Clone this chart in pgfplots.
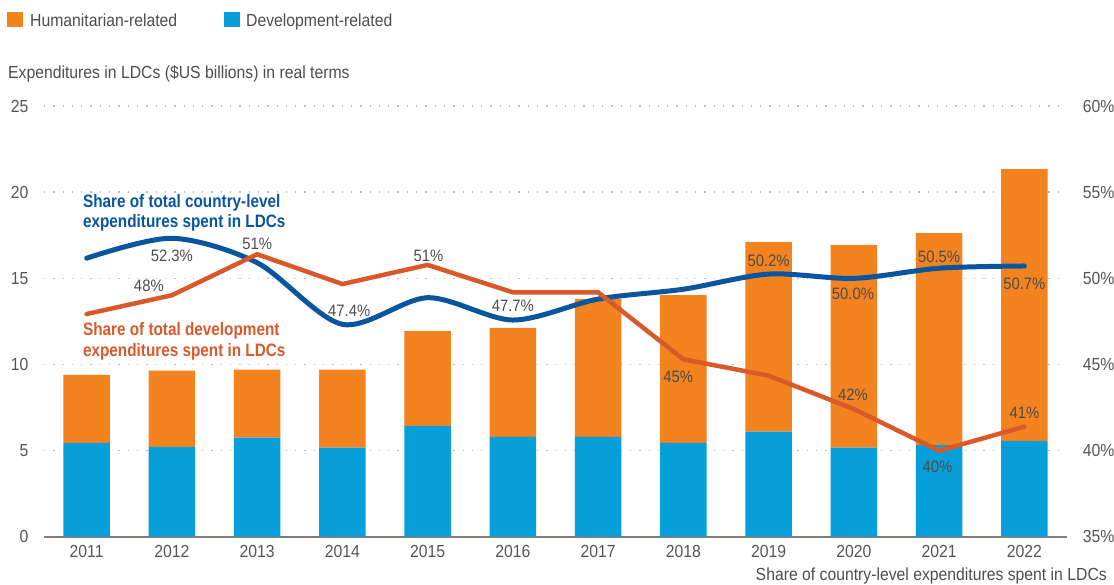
\documentclass[border=0pt]{standalone}
\usepackage{fontspec}
\setmainfont{Liberation Sans}[FakeStretch=0.9]
\newfontfamily\condb{Liberation Sans Bold}[FakeStretch=0.85]
\usepackage{pgfplots}
\pgfplotsset{compat=1.18}
\definecolor{hum}{HTML}{F3831F}
\definecolor{dev}{HTML}{079FDA}
\definecolor{bline}{HTML}{0A559F}
\definecolor{oline}{HTML}{D9592B}
\definecolor{lab}{HTML}{4D4D4D}
\definecolor{tickc}{HTML}{555555}
\definecolor{gridc}{HTML}{BDBDBD}
\definecolor{basec}{HTML}{857E78}
\pgfplotsset{/pgf/number format/assume math mode=true}
\begin{document}
\begin{tikzpicture}
\path[use as bounding box] (0,0) rectangle (1114pt,-585pt);
% legend
\fill[hum] (7.3pt,-11.7pt) rectangle (23.3pt,-27.3pt);
\node[anchor=base west, inner sep=0, text=lab, font=\fontsize{17.5}{20}\selectfont] at (30pt,-26.2pt) {Humanitarian-related};
\fill[dev] (224pt,-11.7pt) rectangle (240pt,-27.3pt);
\node[anchor=base west, inner sep=0, text=lab, font=\fontsize{17.5}{20}\selectfont] at (246pt,-26.2pt) {Development-related};
% y title
\node[anchor=base west, inner sep=0, text=lab, font=\fontsize{17.5}{20}\selectfont] at (8pt,-78.5pt) {Expenditures in LDCs (\$US billions) in real terms};
% bottom right title
\node[anchor=base east, inner sep=0, text=lab, font=\fontsize{17.5}{20}\selectfont] at (1107pt,-580.8pt) {Share of country-level expenditures spent in LDCs};

\begin{axis}[
  at={(44pt,-536.5pt)}, anchor=south west,
  scale only axis, width=1023pt, height=430.5pt,
  xmin=2010.5, xmax=2022.5, ymin=0, ymax=25,
  axis line style={draw=none},
  major tick length=0pt, tick style={draw=none},
  xtick={2011,...,2022},
  xticklabel={\pgfmathprintnumber[1000 sep={}]{\tick}},
  xticklabel style={anchor=north, inner sep=0pt, yshift=-8.5pt, text=tickc, font=\fontsize{17.5}{20}\selectfont},
  ytick={0,5,...,25},
  yticklabel style={anchor=east, inner sep=0pt, xshift=-15.3pt, text=tickc, font=\fontsize{17.5}{20}\selectfont},
  ymajorgrids, grid style={gridc, line width=1.3pt, dash pattern=on 1.3pt off 8pt},
  ybar stacked, bar width=46.4pt,
  clip=false,
]
\addplot[fill=dev, draw=none] coordinates {
(2011,5.43) (2012,5.20) (2013,5.74) (2014,5.16) (2015,6.43) (2016,5.78)
(2017,5.78) (2018,5.43) (2019,6.09) (2020,5.16) (2021,5.31) (2022,5.55)};
\addplot[fill=hum, draw=none] coordinates {
(2011,3.95) (2012,4.43) (2013,3.95) (2014,4.53) (2015,5.50) (2016,6.33)
(2017,8.02) (2018,8.59) (2019,11.01) (2020,11.77) (2021,12.31) (2022,15.79)};
\draw[basec, line width=2pt] (rel axis cs:0,0) -- (rel axis cs:1,0);
\end{axis}

\begin{axis}[
  at={(44pt,-536.5pt)}, anchor=south west,
  scale only axis, width=1023pt, height=430.5pt,
  xmin=2010.5, xmax=2022.5, ymin=35, ymax=60,
  axis line style={draw=none},
  major tick length=0pt, tick style={draw=none},
  xtick=\empty,
  ytick={35,40,...,60},
  yticklabel pos=right,
  yticklabel={\pgfmathprintnumber{\tick}\%},
  yticklabel style={anchor=west, inner sep=0pt, xshift=15.7pt, text=tickc, font=\fontsize{17.5}{20}\selectfont},
  clip=false,
]
\addplot[bline, line width=5pt, smooth, tension=0.5, line cap=round] coordinates {
(2011,51.16) (2012,52.32) (2013,50.9) (2014,47.32) (2015,48.87) (2016,47.57)
(2017,48.79) (2018,49.36) (2019,50.24) (2020,49.99) (2021,50.58) (2022,50.71)};
\addplot[oline, line width=4.5pt, line cap=round] coordinates {
(2011,47.92) (2012,49.01) (2013,51.39) (2014,49.66) (2015,50.77) (2016,49.18)
(2017,49.18) (2018,45.29) (2019,44.34) (2020,42.40) (2021,39.98) (2022,41.38)};
\begin{scope}[every node/.style={inner sep=0pt, text=lab, font=\fontsize{16.5}{18}\selectfont}]
\node at (axis cs:2012.0,51.29) {52.3\%};
\node at (axis cs:2011.73,49.55) {48\%};
\node at (axis cs:2013.0,51.99) {51\%};
\node at (axis cs:2014.08,48.10) {47.4\%};
\node at (axis cs:2015.01,51.31) {51\%};
\node at (axis cs:2016.0,48.40) {47.7\%};
\node at (axis cs:2017.94,44.26) {45\%};
\node at (axis cs:2019.0,51.02) {50.2\%};
\node at (axis cs:2019.99,49.08) {50.0\%};
\node at (axis cs:2019.99,43.22) {42\%};
\node at (axis cs:2021.0,51.25) {50.5\%};
\node at (axis cs:2022.0,49.70) {50.7\%};
\node at (axis cs:2020.98,39.02) {40\%};
\node at (axis cs:2022.0,42.21) {41\%};
\end{scope}
\end{axis}

% series annotations
\node[anchor=west, align=left, inner sep=0, text=bline, font=\condb\fontsize{18}{20.6}\selectfont] at (82.9pt,-213pt) {Share of total country-level\\expenditures spent in LDCs};
\node[anchor=west, align=left, inner sep=0, text=oline, font=\condb\fontsize{18}{20.6}\selectfont] at (82.9pt,-341.2pt) {Share of total development\\expenditures spent in LDCs};
\end{tikzpicture}
\end{document}
